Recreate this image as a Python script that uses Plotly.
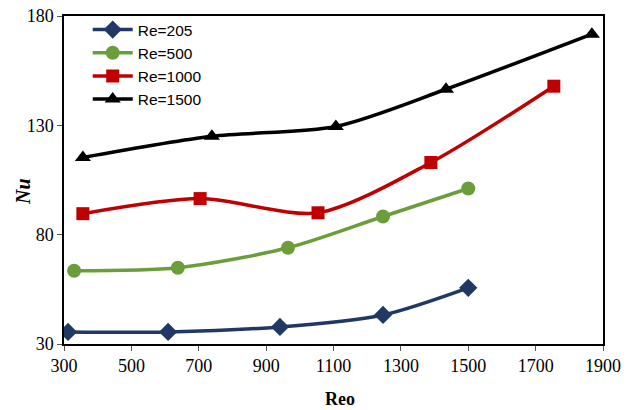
import plotly.graph_objects as go

reo_205 = [312, 609, 941, 1247, 1500]
nu_205 = [35.5, 35.5, 37.8, 43.3, 55.7]
reo_500 = [330, 638, 965, 1247, 1500]
nu_500 = [63.5, 64.9, 74.0, 88.3, 101.1]
reo_1000 = [356, 704, 1054, 1389, 1754]
nu_1000 = [89.6, 96.5, 90.0, 113.0, 147.9]
reo_1500 = [356, 739, 1107, 1434, 1867]
nu_1500 = [115.3, 125.0, 129.5, 146.5, 171.7]

series = [
    ("Re=205", reo_205, nu_205, "#1F3864", "diamond", 14),
    ("Re=500", reo_500, nu_500, "#6A9E3A", "circle", 14),
    ("Re=1000", reo_1000, nu_1000, "#C00000", "square", 13),
    ("Re=1500", reo_1500, nu_1500, "#000000", "triangle-up", 14),
]

x_ticks = [300, 500, 700, 900, 1100, 1300, 1500, 1700, 1900]
y_ticks = [30, 80, 130, 180]

fig = go.Figure()
for name, x, y, color, symbol, size in series:
    fig.add_trace(go.Scatter(
        x=x, y=y, name=name, mode="lines+markers",
        line=dict(color=color, width=3.5, shape="spline", smoothing=0.8),
        marker=dict(color=color, symbol=symbol, size=size),
    ))

axis_font = dict(family="Liberation Serif", size=18, color="black")
fig.update_layout(
    width=630, height=410,
    margin=dict(l=64, r=27, t=16, b=66),
    paper_bgcolor="white", plot_bgcolor="white",
    showlegend=True,
    legend=dict(
        x=0.044, y=1.009, xanchor="left", yanchor="top",
        font=dict(family="Liberation Sans", size=15.5, color="black"),
        bgcolor="rgba(255,255,255,0)", tracegroupgap=0,
        itemwidth=40,
    ),
    xaxis=dict(
        range=[300, 1900], tickvals=x_ticks, ticktext=[str(v) for v in x_ticks],
        showgrid=False, zeroline=False, automargin=False,
        showline=True, linecolor="black", linewidth=1.5, mirror=True,
        ticks="outside", ticklen=5, tickcolor="#555555",
        tickfont=axis_font,
    ),
    yaxis=dict(
        range=[30, 180], tickvals=y_ticks, ticktext=[str(v) for v in y_ticks],
        showgrid=False, zeroline=False, automargin=False,
        showline=True, linecolor="black", linewidth=1.5, mirror=True,
        ticks="outside", ticklen=5, tickcolor="#555555",
        tickfont=axis_font,
    ),
    annotations=[
        dict(text="<b>Reo</b>", xref="paper", yref="paper",
             x=(340 - 64) / 539, y=-(399 - 344) / 328,
             xanchor="center", yanchor="middle", showarrow=False,
             font=dict(family="Liberation Serif", size=18, color="black")),
        dict(text="<b><i>Nu</i></b>", xref="paper", yref="paper",
             x=-(64 - 23) / 539, y=(344 - 192) / 328,
             xanchor="center", yanchor="middle", showarrow=False, textangle=-90,
             font=dict(family="Liberation Serif", size=20, color="black")),
    ],
)

fig.write_html("out.html", config={"displayModeBar": False},
               post_script="document.body.style.margin='0px';")
